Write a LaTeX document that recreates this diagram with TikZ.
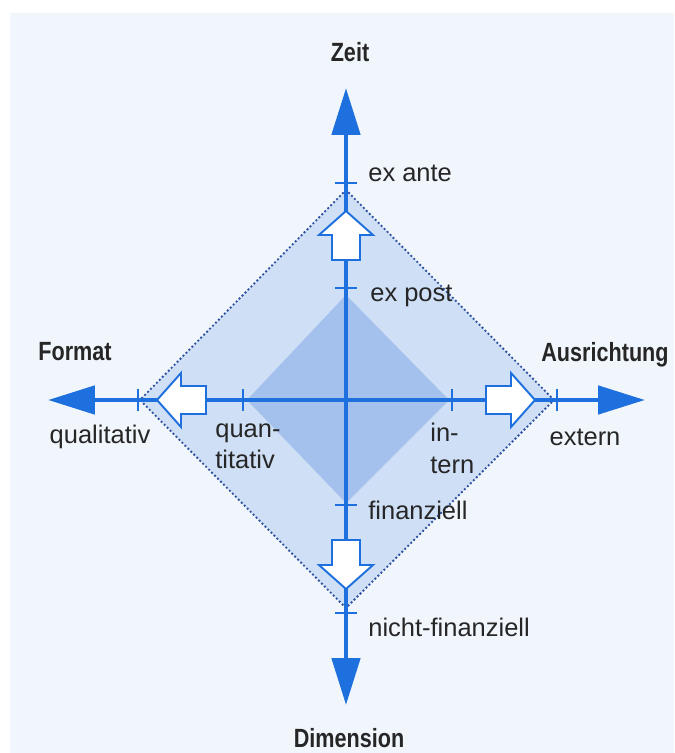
\documentclass[tikz,border=0pt]{standalone}
\usepackage{fontspec}
\setmainfont{Liberation Sans}
\newfontfamily\headfont[FakeStretch=0.82]{Liberation Sans}
\usetikzlibrary{arrows.meta}
\definecolor{axisblue}{RGB}{30,112,222}
\definecolor{pagetint}{RGB}{241,246,252}
\definecolor{outerfill}{RGB}{207,224,246}
\definecolor{innerfill}{RGB}{164,192,237}
\definecolor{dotblue}{RGB}{45,80,160}
\begin{document}
\begin{tikzpicture}[
    x=0.02cm, y=0.02cm,
    axis/.style={draw=axisblue, line width=2.8pt,
                 {Triangle[length=0.94cm, width=0.56cm]}-{Triangle[length=0.94cm, width=0.56cm]}},
    tick/.style={draw=axisblue, line width=1.1pt},
    hollow/.style={draw=axisblue, fill=white, line width=1.1pt, line join=miter},
    rim/.style={draw=dotblue, line width=1.5pt, line cap=round, dash pattern=on 0pt off 2.4pt},
    headlabel/.style={font=\headfont\bfseries\fontsize{15}{18}\selectfont, text=black!85, inner sep=0pt},
    poslabel/.style={font=\fontsize{14.5}{18}\selectfont, text=black!85, inner sep=0pt, align=left}
  ]
  % page
  \fill[white] (-346,-353) rectangle (328,400);
  \fill[pagetint] (-336,-353) rectangle (328,387);
  \useasboundingbox (-346,-353) rectangle (328,400);

  % diamonds
  \fill[outerfill] (0,210) -- (208,0) -- (0,-208) -- (-206,0) -- cycle;
  \fill[innerfill] (0,105) -- (103,0) -- (0,-103) -- (-99,0) -- cycle;
  \draw[rim] (0,210) -- (208,0) -- (0,-208) -- (-206,0) -- cycle;

  % axes
  \coordinate (n) at (0,312);
  \coordinate (s) at (0,-305);
  \coordinate (w) at (-298,0);
  \coordinate (e) at (299,0);
  \draw[axis] (s) -- (n);
  \draw[axis] (w) -- (e);

  % ticks
  \coordinate (exante) at (0,217);
  \coordinate (expost) at (0,112);
  \coordinate (fin) at (0,-105);
  \coordinate (nfin) at (0,-213);
  \coordinate (qual) at (-208,0);
  \coordinate (quant) at (-103,0);
  \coordinate (int) at (106,0);
  \coordinate (ext) at (211,0);
  \foreach \p in {exante,expost,fin,nfin}
    \draw[tick] (\p) ++(-11,0) -- ++(22,0);
  \foreach \p in {qual,quant,int,ext}
    \draw[tick] (\p) ++(0,-11) -- ++(0,22);

  % hollow arrows
  \foreach \a in {0,90,180,270}
    \draw[hollow, rotate=\a] (140,-14) -- (165,-14) -- (165,-27) -- (189,0)
      -- (165,27) -- (165,14) -- (140,14) -- cycle;

  % labels
  \node[headlabel] (zeit) at (4,348) {Zeit};
  \node[headlabel] (dimension) at (3,-338) {Dimension};
  \node[headlabel] (format) at (-271,48) {Format};
  \node[headlabel] (ausrichtung) at (259,45) {Ausrichtung};

  \node[poslabel, anchor=west] (exantel) at (22,227) {ex ante};
  \node[poslabel, anchor=west] (expostl) at (24,104) {ex post};
  \node[poslabel, anchor=west] (finl) at (22,-110) {finanziell};
  \node[poslabel, anchor=west] (nfinl) at (22,-227) {nicht-finanziell};
  \node[poslabel] (quall) at (-246,-37) {qualitativ};
  \node[poslabel] (extl) at (239,-37) {extern};
  \node[poslabel, anchor=north west] (quantl) at (-131,-23) {quan-\\titativ};
  \node[poslabel, anchor=north west] (intl) at (84,-23) {in-\\tern};
\end{tikzpicture}
\end{document}
